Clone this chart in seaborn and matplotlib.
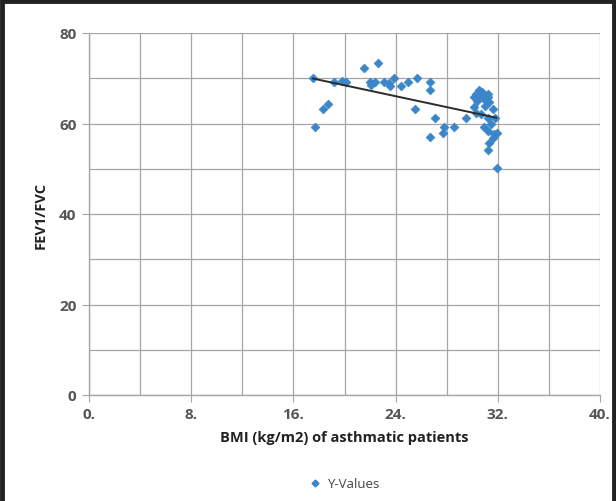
import numpy as np
import pandas as pd
import matplotlib
matplotlib.use("Agg")
import matplotlib.pyplot as plt
import seaborn as sns
from matplotlib.lines import Line2D
from matplotlib.patches import Rectangle

bmi = [17.5, 17.7, 18.3, 18.7, 19.2, 19.8, 20.1, 21.5, 22.6, 22.0, 22.1, 22.4,
       23.1, 23.5, 23.6, 23.9, 24.4, 25.0, 25.7, 26.7, 26.7, 25.5, 27.1, 26.7,
       27.8, 27.7, 28.6, 29.5, 30.3, 30.5, 30.8, 30.1, 30.4, 30.1, 30.9, 31.2,
       31.3, 31.0, 31.6, 30.3, 30.7, 31.2, 31.8, 30.9, 31.2, 31.5, 31.9, 31.6,
       31.3, 31.2, 31.7, 31.9, 30.5, 31.2]
fev = [70.1, 59.3, 63.2, 64.2, 69.1, 69.3, 69.1, 72.2, 73.3, 69.2, 68.5, 69.2,
       69.2, 69.0, 68.2, 70.0, 68.2, 69.1, 70.1, 69.1, 67.3, 63.2, 61.2, 57.1,
       59.3, 58.0, 59.3, 61.2, 66.5, 67.3, 66.9, 65.8, 65.0, 63.6, 65.4, 65.8,
       64.7, 63.9, 63.2, 62.4, 62.1, 61.3, 61.3, 59.3, 58.4, 59.9, 58.0, 56.9,
       55.8, 54.1, 57.6, 50.1, 66.2, 66.5]
x_ticks = [0, 8, 16, 24, 32, 40]
x_tick_labels = ["0.", "8.", "16.", "24.", "32.", "40."]
y_ticks = [0, 20, 40, 60, 80]

df = pd.DataFrame({"BMI": bmi, "FEV": fev})

sns.set_style("white")
fig = plt.figure(figsize=(6.16, 5.02), dpi=100)
ax = fig.add_axes([89/616, 1 - 396/502, (600 - 89)/616, (396 - 34)/502])

blue = "#3A86C8"
grid_c = "#A6A6A6"

sns.scatterplot(data=df, x="BMI", y="FEV", ax=ax, marker="D", s=20,
                color=blue, edgecolor=blue, linewidth=0.5, zorder=3, legend=False)
sns.regplot(data=df, x="BMI", y="FEV", ax=ax, scatter=False, ci=None,
            truncate=True, line_kws=dict(color="#2B2B2B", lw=1.4, zorder=4))

ax.set_xlim(0, 40)
ax.set_ylim(0, 80)
ax.set_xticks(x_ticks)
ax.set_xticklabels(x_tick_labels)
ax.set_yticks(y_ticks)
ax.set_xticks(np.arange(4, 40, 8), minor=True)
ax.set_yticks(np.arange(10, 80, 20), minor=True)
ax.grid(True, which="both", color=grid_c, lw=0.9)
ax.set_axisbelow(True)
for s in ["top", "right"]:
    ax.spines[s].set_visible(False)
for s in ["left", "bottom"]:
    ax.spines[s].set_color(grid_c)
    ax.spines[s].set_linewidth(1.0)
ax.tick_params(which="major", direction="out", length=5, color=grid_c,
               labelsize=11, labelcolor="#555555", pad=4, bottom=True, left=True)
ax.tick_params(which="minor", length=0)
for lbl in ax.get_xticklabels() + ax.get_yticklabels():
    lbl.set_fontfamily("Open Sans")
    lbl.set_fontweight("bold")

ax.set_xlabel("BMI (kg/m2) of asthmatic patients", fontsize=10.5, fontweight="bold",
              fontfamily="Open Sans", color="#222222", labelpad=6)
ax.set_ylabel("FEV1/FVC", fontsize=10.5, fontweight="bold",
              fontfamily="Open Sans", color="#222222", labelpad=8)

handle = Line2D([], [], marker="D", linestyle="none", color=blue, markersize=3.5)
fig.legend([handle], ["Y-Values"], loc="center", bbox_to_anchor=(0.557, 1 - 485/502),
           frameon=False, prop=dict(family="Open Sans", size=9.5), handletextpad=0.3,
           handlelength=1.2, labelcolor="#444444")

fig.patches.append(Rectangle((0.003, -0.05), 0.994, 1.047, transform=fig.transFigure,
                             fill=False, edgecolor="#222222", lw=3.5))

fig.savefig("out.png", dpi=100)
